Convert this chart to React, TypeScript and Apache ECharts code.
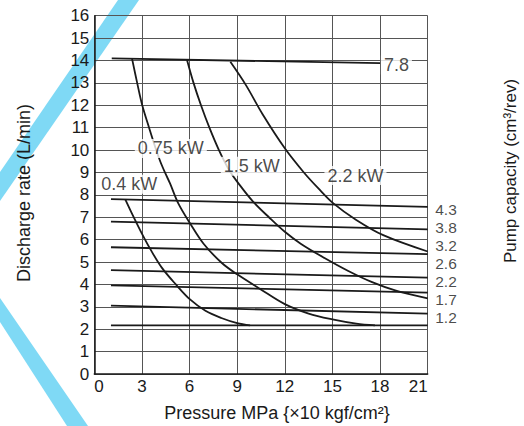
import React, { useEffect, useRef } from "react";
import * as echarts from "echarts";

// ---- axes ----
const xMin = 0;
const xMax = 21;
const xStep = 3;
const yMin = 0;
const yMax = 16;
const yStep = 1;

// ---- pump capacity lines (cm3/rev) ----
const topCapacityName = "7.8";
const topCapacityLine: number[][] = [
  [1.1, 14.09],
  [18.0, 13.88],
];
const topCapacityLabelAt: number[] = [19.03, 13.8];

const capacityNames = ["4.3", "3.8", "3.2", "2.6", "2.2", "1.7", "1.2"];
const capacityStartX = 1.05;
const capacityEndX = 21;
const capacityStartY = [7.81, 6.8, 5.66, 4.64, 3.96, 3.05, 2.17];
const capacityEndY = [7.46, 6.46, 5.35, 4.3, 3.63, 2.7, 2.17];
const capacityLabelY = [7.34, 6.54, 5.74, 4.93, 4.13, 3.33, 2.52];

// ---- motor power curves (kW) ----
const powerNames = ["0.4 kW", "0.75 kW", "1.5 kW", "2.2 kW"];
const powerLabelAt: number[][] = [
  [2.2, 8.47],
  [4.82, 10.07],
  [9.92, 9.28],
  [16.45, 8.86],
];
const curve04: number[][] = [
  [1.95, 7.8], [2.45, 7.05], [2.99, 6.28], [3.51, 5.6], [4.25, 4.75],
  [5.2, 3.95], [6.03, 3.33], [7.0, 2.82], [8.0, 2.5], [9.0, 2.27], [9.81, 2.17],
];
const curve075: number[][] = [
  [2.38, 14.07], [2.7, 13.0], [3.02, 12.0], [3.45, 11.0], [3.9, 10.0],
  [4.15, 9.5], [4.45, 9.0], [4.77, 8.51], [5.29, 7.62], [6.03, 6.73],
  [6.87, 5.83], [8.0, 4.98], [9.0, 4.45], [10.44, 3.8], [12.0, 3.12],
  [13.5, 2.7], [15.0, 2.44], [16.5, 2.25], [17.68, 2.17],
];
const curve15: number[][] = [
  [5.84, 14.02], [6.25, 13.0], [6.72, 12.0], [7.25, 11.0], [7.85, 10.0],
  [8.5, 9.1], [9.2, 8.4], [10.0, 7.7], [11.0, 7.0], [12.0, 6.35],
  [13.0, 5.82], [14.5, 5.18], [16.0, 4.6], [17.5, 4.1], [19.0, 3.72], [21.0, 3.38],
];
const curve22: number[][] = [
  [8.57, 13.94], [9.55, 12.9], [10.6, 11.6], [12.0, 10.08], [13.2, 9.0],
  [14.1, 8.3], [15.06, 7.62], [16.5, 6.88], [18.2, 6.2], [21.0, 5.47],
];
const powerCurves = [curve04, curve075, curve15, curve22];

// ---- titles ----
const xTitle = "Pressure MPa {×10 kgf/cm²}";
const yTitle = "Discharge rate (L/min)";
const y2Title = "Pump capacity (cm³/rev)";

const FONT = "'Liberation Sans', Arial, Helvetica, sans-serif";
const INK = "#1a1a1a";
const BAND = "#7fd9f5";

export default function App() {
  const ref = useRef<HTMLDivElement>(null);

  useEffect(() => {
    if (!ref.current) return;
    const chart = echarts.init(ref.current, null, { renderer: "svg" });

    const lineBase = {
      type: "line",
      symbol: "none",
      silent: true,
      z: 3,
      lineStyle: { color: INK, width: 1.8 },
      emphasis: { disabled: true },
    };

    const series: any[] = [];
    series.push({ ...lineBase, name: topCapacityName, data: topCapacityLine });
    capacityNames.forEach((n, i) => {
      series.push({
        ...lineBase,
        name: n,
        data: [
          [capacityStartX, capacityStartY[i]],
          [capacityEndX, capacityEndY[i]],
        ],
      });
    });
    powerCurves.forEach((c, i) => {
      series.push({
        ...lineBase,
        name: powerNames[i],
        smooth: 0.35,
        data: c,
      });
    });

    // kW labels and 7.8 label with white boxes
    series.push({
      type: "scatter",
      silent: true,
      z: 10,
      symbolSize: 1,
      itemStyle: { color: "rgba(0,0,0,0)" },
      data: [
        ...powerLabelAt.map((p, i) => ({ value: p, name: powerNames[i] })),
        { value: topCapacityLabelAt, name: topCapacityName },
      ],
      label: {
        show: true,
        position: "inside",
        formatter: "{b}",
        fontFamily: FONT,
        fontSize: 18,
        color: INK,
        backgroundColor: "#ffffff",
        padding: [1, 3, 0, 3],
      },
    });

    // right-side capacity labels
    series.push({
      type: "scatter",
      silent: true,
      z: 10,
      symbolSize: 1,
      itemStyle: { color: "rgba(0,0,0,0)" },
      data: capacityNames.map((n, i) => ({
        value: [capacityEndX, capacityLabelY[i]],
        name: n,
      })),
      label: {
        show: true,
        position: "right",
        distance: 7,
        formatter: "{b}",
        fontFamily: FONT,
        fontSize: 15.5,
        color: INK,
      },
    });

    chart.setOption({
      animation: false,
      backgroundColor: "#ffffff",
      grid: { left: 94.3, right: 96.3, top: 15.7, bottom: 52, containLabel: false },
      xAxis: {
        type: "value",
        min: xMin,
        max: xMax,
        interval: xStep,
        axisLine: { show: true, lineStyle: { color: INK, width: 1.5 } },
        axisTick: { show: false },
        splitLine: { show: true, lineStyle: { color: "#555", width: 1 } },
        axisLabel: {
          fontFamily: FONT,
          fontSize: 17,
          color: INK,
          margin: 4,
          alignMinLabel: "left",
          alignMaxLabel: "right",
        },
      },
      yAxis: {
        type: "value",
        min: yMin,
        max: yMax,
        interval: yStep,
        axisLine: { show: true, lineStyle: { color: INK, width: 1.5 } },
        axisTick: { show: false },
        splitLine: { show: true, lineStyle: { color: "#555", width: 1 } },
        axisLabel: { fontFamily: FONT, fontSize: 17, color: INK, margin: 5 },
      },
      graphic: [
        {
          type: "polygon",
          z: -10,
          silent: true,
          shape: { points: [[118, 0], [139, 0], [0, 201], [0, 172]] },
          style: { fill: BAND },
        },
        {
          type: "polygon",
          z: -10,
          silent: true,
          shape: { points: [[0, 298], [88, 426], [67, 426], [0, 322]] },
          style: { fill: BAND },
        },
        {
          type: "text",
          x: 277,
          y: 413,
          silent: true,
          style: {
            text: xTitle,
            align: "center",
            verticalAlign: "middle",
            font: `18px ${FONT}`,
            fill: INK,
          },
        },
        {
          type: "text",
          x: 24,
          y: 193,
          rotation: Math.PI / 2,
          silent: true,
          style: {
            text: yTitle,
            align: "center",
            verticalAlign: "middle",
            font: `18px ${FONT}`,
            fill: INK,
          },
        },
        {
          type: "text",
          x: 510,
          y: 171,
          rotation: Math.PI / 2,
          silent: true,
          style: {
            text: y2Title,
            align: "center",
            verticalAlign: "middle",
            font: `17px ${FONT}`,
            fill: INK,
          },
        },
      ],
      series,
    });

    return () => chart.dispose();
  }, []);

  return (
    <div
      ref={ref}
      style={{ position: "fixed", left: 0, top: 0, width: 524, height: 426, background: "#fff" }}
    />
  );
}
